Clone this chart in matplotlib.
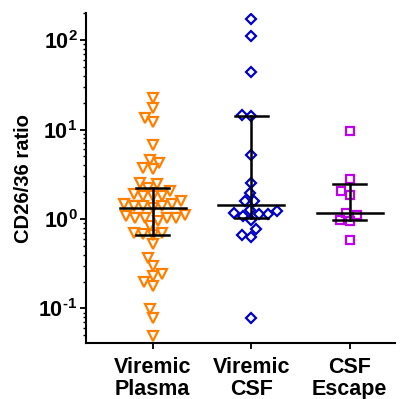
import numpy as np
import matplotlib.pyplot as plt
from matplotlib.ticker import LogLocator, FuncFormatter, NullFormatter

plt.rcParams['font.family'] = ['Liberation Sans', 'DejaVu Sans']
plt.rcParams['mathtext.fontset'] = 'custom'
plt.rcParams['mathtext.rm'] = 'Liberation Sans:bold'
plt.rcParams['mathtext.bf'] = 'Liberation Sans:bold'
plt.rcParams['mathtext.it'] = 'Liberation Sans:bold'

# data
groups = ['Viremic\nPlasma', 'Viremic\nCSF', 'CSF\nEscape']
plasma = [22.8, 17.4, 13.6, 12.0, 6.7, 4.6, 4.27, 3.7, 3.6,
          2.55, 2.45, 2.24, 2.06, 1.89, 1.81, 1.81, 1.81,
          1.59, 1.46, 1.46, 1.40, 1.40, 1.40, 1.34,
          1.10, 1.08, 1.03, 1.03, 1.03, 1.03, 0.95, 0.84,
          0.70, 0.70, 0.68, 0.67, 0.52,
          0.37, 0.30, 0.24, 0.23, 0.20, 0.18, 0.099, 0.079, 0.049]
csf = [170, 112, 44, 14.6, 14.0, 5.2, 2.5, 1.95, 1.58, 1.58,
       1.27, 1.23, 1.18, 1.13, 1.13, 1.08, 0.97, 0.78, 0.66, 0.63, 0.079]
escape = [9.7, 2.8, 2.06, 1.86, 1.18, 1.10, 0.97, 0.95, 0.59]
medians = [1.32, 1.42, 1.18]
q1 = [0.67, 1.03, 0.97]
q3 = [2.2, 14.2, 2.45]

colors = ['#FF8000', '#0000C8', '#C000E8']
markers = ['v', 'D', 's']
msizes = [6.8, 4.7, 6.3]


def fits(x, y, placed, d):
    for px, py in placed:
        if (x - px) ** 2 + (y - py) ** 2 < d ** 2:
            return False
    return True


def swarm(vals, d=9.2, px_dec=89.3, px_unit=98.7):
    y = np.log10(vals) * px_dec
    offs = np.zeros(len(vals))
    placed = []
    for i in np.argsort(y):
        x = 0.0
        for step in range(0, 300):
            cands = [0.0] if step == 0 else [-step * 0.5, step * 0.5]
            ok = [c for c in cands if fits(c, y[i], placed, d)]
            if ok:
                x = ok[0]
                break
        placed.append((x, y[i]))
        offs[i] = x / px_unit
    return offs


def fmt(v, p):
    e = int(round(np.log10(v)))
    if e < 0:
        return r'$\mathbf{10^{\text{-}%d}}$' % (-e)
    return r'$\mathbf{10^{%d}}$' % e


fig = plt.figure(figsize=(4.09, 3.99), dpi=100)
ax = fig.add_axes([0.210, 0.140, 0.756, 0.827])

for k, vals in enumerate([plasma, csf, escape]):
    offs = swarm(vals)
    ax.plot(k + offs, vals, linestyle='none', marker=markers[k], ms=msizes[k],
            mfc='none', mec=colors[k], mew=1.6, zorder=2)
    # median and interquartile range
    ax.plot([k, k], [q1[k], q3[k]], color='black', lw=1.8, zorder=3)
    ax.plot([k - 0.335, k + 0.335], [medians[k]] * 2, color='black', lw=1.8, zorder=3)
    for q in (q1[k], q3[k]):
        ax.plot([k - 0.167, k + 0.167], [q, q], color='black', lw=1.8, zorder=3)

ax.set_yscale('log')
ax.set_ylim(0.041, 200)
ax.set_xlim(-0.676, 2.46)
ax.yaxis.set_major_locator(LogLocator(base=10))
ax.yaxis.set_minor_locator(LogLocator(base=10, subs=np.arange(2, 10)))
ax.yaxis.set_minor_formatter(NullFormatter())
ax.yaxis.set_major_formatter(FuncFormatter(fmt))

ax.set_xticks([0, 1, 2])
ax.set_xticklabels(groups, fontsize=15.5, fontweight='bold', linespacing=1.05)
ax.tick_params(axis='y', labelsize=15.5, width=1.3, length=4, pad=2)
ax.tick_params(axis='y', which='minor', width=1.0, length=2.5)
ax.tick_params(axis='x', width=1.3, length=4, pad=6)
ax.set_ylabel('CD26/36 ratio', fontsize=14.5, fontweight='bold', labelpad=4)

for s in ['top', 'right']:
    ax.spines[s].set_visible(False)
for s in ['left', 'bottom']:
    ax.spines[s].set_linewidth(1.5)

fig.savefig('out.png', dpi=100)
